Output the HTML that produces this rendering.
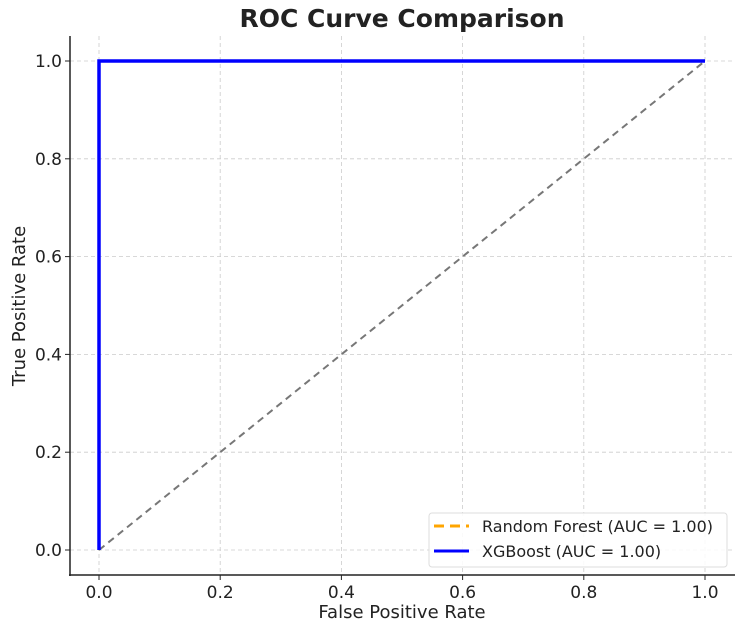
<!DOCTYPE html>
<html><head><meta charset="utf-8"><style>
body{margin:0;background:#fff;}
svg text{font-family:"DejaVu Sans","Liberation Sans",sans-serif;fill:#222;}
</style></head><body>
<svg id="chart" width="746" height="626" xmlns="http://www.w3.org/2000/svg">
<text x="402" y="27" text-anchor="middle" font-size="25" font-weight="bold" fill="#333">ROC Curve Comparison</text>
<g id="grid"></g><g id="axes"></g><g id="series"></g>
<text x="402" y="618" text-anchor="middle" font-size="18">False Positive Rate</text>
<text transform="translate(25,306) rotate(-90)" text-anchor="middle" font-size="18">True Positive Rate</text>
<g>
<rect x="429" y="513" width="298" height="54" rx="3" fill="#fff" fill-opacity="0.85" stroke="#ddd"/>
<line x1="434" y1="526" x2="469" y2="526" stroke="orange" stroke-width="3" stroke-dasharray="10,6"/>
<text x="482" y="532" font-size="16" fill="#333">Random Forest (AUC = 1.00)</text>
<line x1="434" y1="551" x2="469" y2="551" stroke="#0000ff" stroke-width="3"/>
<text x="482" y="557" font-size="16" fill="#333">XGBoost (AUC = 1.00)</text>
</g>
</svg>
<script>
const xTicks=[0,0.2,0.4,0.6,0.8,1.0];
const yTicks=[0,0.2,0.4,0.6,0.8,1.0];
const rfFpr=[0,0,1];
const rfTpr=[0,1,1];
const xgbFpr=[0,0,1];
const xgbTpr=[0,1,1];
const diagX=[0,1];
const diagY=[0,1];
const NS="http://www.w3.org/2000/svg";
const sx=v=>99+v*606, sy=v=>550-v*489;
function mk(t,a,p){const e=document.createElementNS(NS,t);for(const k in a)e.setAttribute(k,a[k]);p.appendChild(e);return e;}
const grid=document.getElementById('grid'),axes=document.getElementById('axes'),ser=document.getElementById('series');
xTicks.forEach(v=>{
 const g=mk('line',{x1:sx(v),x2:sx(v),y1:36,y2:575,stroke:'#ccc','stroke-dasharray':'4,3','stroke-width':0.8},grid);
 
 
 mk('line',{x1:sx(v),x2:sx(v),y1:575,y2:580,stroke:'#222'},axes);
 const t=mk('text',{x:sx(v),y:598,'text-anchor':'middle','font-size':17},axes);t.textContent=v.toFixed(1);
 
 
});
yTicks.forEach(v=>{
 const g=mk('line',{x1:70,x2:735,y1:sy(v),y2:sy(v),stroke:'#ccc','stroke-dasharray':'4,3','stroke-width':0.8},grid);
 
 
 mk('line',{x1:65,x2:70,y1:sy(v),y2:sy(v),stroke:'#222'},axes);
 const t=mk('text',{x:62,y:sy(v)+6,'text-anchor':'end','font-size':17},axes);t.textContent=v.toFixed(1);
 
 
});
const ls=mk('line',{x1:70,x2:70,y1:36,y2:576,stroke:'#222','stroke-width':1.5},axes);


const bs=mk('line',{x1:69,x2:735,y1:575,y2:575,stroke:'#222','stroke-width':1.5},axes);


const pts=(xs,ys)=>xs.map((x,i)=>sx(x)+','+sy(ys[i])).join(' ');
const d=mk('polyline',{points:pts(diagX,diagY),fill:'none',stroke:'#777','stroke-width':2,'stroke-dasharray':'7,5'},ser);


const rf=mk('polyline',{points:pts(rfFpr,rfTpr),fill:'none',stroke:'orange','stroke-width':3,'stroke-dasharray':'10,6'},ser);


const xg=mk('polyline',{points:pts(xgbFpr,xgbTpr),fill:'none',stroke:'#0000ff','stroke-width':3.5},ser);


</script>
</body></html>
